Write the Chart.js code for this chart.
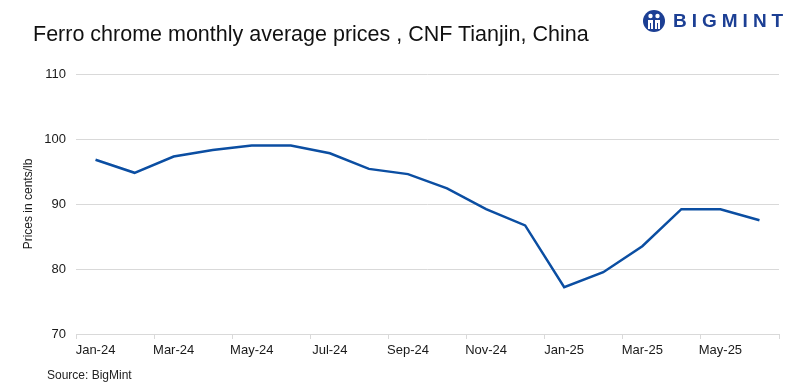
<!DOCTYPE html>
<html>
<head>
<meta charset="utf-8">
<script src="https://cdn.jsdelivr.net/npm/chart.js@4.4.1/dist/chart.umd.min.js"></script>
<style>
    body { margin: 0; background: #fff; font-family: "Liberation Sans", Arial, sans-serif; }
    #wrap { position: relative; width: 800px; height: 389px; }
    #chart { position: absolute; left: 0; top: 0; }
    .title { position: absolute; left: 33px; top: 22px; font-size: 21.5px; color: #111; white-space: nowrap; }
    .source { position: absolute; left: 47px; top: 368px; font-size: 12px; color: #222; }
    .logo { position: absolute; left: 642px; top: 9px; display: flex; align-items: center; }
    .logo span { font-size: 19px; font-weight: bold; letter-spacing: 5px; color: #1c3f94; margin-left: 7px; }
</style>
</head>
<body>
<div id="wrap">
    <canvas id="chart" width="800" height="389"></canvas>
    <div class="title">Ferro chrome monthly average prices , CNF Tianjin, China</div>
    <div class="logo">
        <svg width="24" height="24" viewBox="0 0 24 24">
            <circle cx="12" cy="12" r="11" fill="#1c3f94"/>
            <circle cx="8.5" cy="7" r="2.2" fill="#fff"/>
            <circle cx="15.5" cy="7" r="2.2" fill="#fff"/>
            <path d="M6 11 h5 v9 h-2 v-6 h-1 v6 h-2z M13 11 h5 v9 h-2 v-6 h-1 v6 h-2z" fill="#fff"/>
        </svg>
        <span>BIGMINT</span>
    </div>
    <div class="source">Source: BigMint</div>
</div>
<script>
const months = ["Jan-24", "Feb-24", "Mar-24", "Apr-24", "May-24", "Jun-24", "Jul-24", "Aug-24", "Sep-24",
    "Oct-24", "Nov-24", "Dec-24", "Jan-25", "Feb-25", "Mar-25", "Apr-25", "May-25", "Jun-25"];
const prices = [96.8, 94.8, 97.3, 98.3, 99.0, 99.0, 97.8, 95.4, 94.6,
    92.4, 89.2, 86.7, 77.2, 79.5, 83.5, 89.2, 89.2, 87.5];
const yTicks = [70, 80, 90, 100, 110];

const gridGray = "#d9d9d9";

new Chart(document.getElementById("chart"), {
    type: "line",
    data: {
        labels: months,
        datasets: [{
            data: prices,
            borderColor: "#0b4ea2",
            borderWidth: 2.5,
            pointRadius: 0,
            tension: 0,
            fill: false
        }]
    },
    options: {
        responsive: false,
        animation: false,
        layout: { padding: { left: 0, right: 21, top: 74, bottom: 0 } },
        plugins: { legend: { display: false }, tooltip: { enabled: false } },
        scales: {
            x: {
                offset: true,
                afterFit: (s) => { s.height = 55; },
                border: { color: gridGray, width: 1 },
                grid: {
                    offset: true,
                    drawOnChartArea: false,
                    drawTicks: true,
                    tickLength: 5,
                    color: (ctx) => (ctx.index === undefined || ctx.index % 2 === 0) ? gridGray : "rgba(0,0,0,0)"
                },
                ticks: {
                    autoSkip: false,
                    maxRotation: 0,
                    padding: 4,
                    color: "#1a1a1a",
                    font: { family: "Liberation Sans", size: 13 },
                    callback: function (v, i) { return i % 2 === 0 ? this.getLabelForValue(v) : ""; }
                }
            },
            y: {
                min: yTicks[0],
                max: yTicks[yTicks.length - 1],
                afterFit: (s) => { s.width = 76; },
                afterBuildTicks: (s) => { s.ticks = yTicks.map(v => ({ value: v })); },
                border: { display: false },
                grid: { color: gridGray, drawTicks: false, lineWidth: 1 },
                ticks: {
                    padding: 10,
                    color: "#1a1a1a",
                    font: { family: "Liberation Sans", size: 13 }
                },
                title: {
                    display: true,
                    text: "Prices in cents/lb",
                    color: "#1a1a1a",
                    font: { family: "Liberation Sans", size: 12 },
                    padding: { top: 21, bottom: 0 }
                }
            }
        }
    }
});
</script>
</body>
</html>
